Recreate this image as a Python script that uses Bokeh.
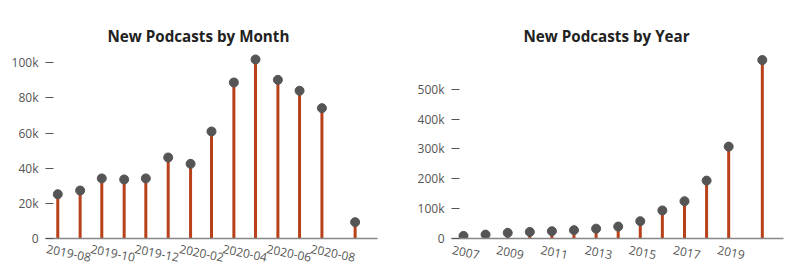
import pandas as pd
from bokeh.plotting import figure
from bokeh.layouts import row
from bokeh.models import ColumnDataSource, Range1d, FixedTicker, NumeralTickFormatter
from bokeh.embed import file_html
from bokeh.resources import INLINE

# ---- data ----
month_dates = ["2019-08-01", "2019-09-01", "2019-10-01", "2019-11-01", "2019-12-01",
               "2020-01-01", "2020-02-01", "2020-03-01", "2020-04-01", "2020-05-01",
               "2020-06-01", "2020-07-01", "2020-08-01", "2020-09-16"]
month_counts = [25200, 27300, 34200, 33600, 34200, 46100, 42500, 60900, 88800, 101900,
                90300, 84100, 74200, 9300]
month_tick_dates = ["2019-08-01", "2019-10-01", "2019-12-01", "2020-02-01",
                    "2020-04-01", "2020-06-01", "2020-08-01"]
month_tick_labels = ["2019-08", "2019-10", "2019-12", "2020-02",
                     "2020-04", "2020-06", "2020-08"]
month_y_ticks = [0, 20000, 40000, 60000, 80000, 100000]

year_dates = ["2007-01-01", "2008-01-01", "2009-01-01", "2010-01-01", "2011-01-01",
              "2012-01-01", "2013-01-01", "2014-01-01", "2015-01-01", "2016-01-01",
              "2017-01-01", "2018-01-01", "2019-01-01", "2020-07-10"]
year_counts = [8700, 13000, 19000, 22000, 24500, 28000, 33000, 40000, 58000, 94000,
               125000, 194000, 308000, 598000]
year_tick_dates = ["2007-01-01", "2009-01-01", "2011-01-01", "2013-01-01",
                   "2015-01-01", "2017-01-01", "2019-01-01"]
year_tick_labels = ["2007", "2009", "2011", "2013", "2015", "2017", "2019"]
year_y_ticks = [0, 100000, 200000, 300000, 400000, 500000]

STEM = "#b8401a"
DOT = "#555555"
FONT = "Open Sans"


def ms(s):
    return pd.Timestamp(s).value / 1e6


def make(title, dates, counts, tick_dates, tick_labels, xr, ymax, yticks,
         left, right, title_off, label_shift_px, standoff):
    src = ColumnDataSource(dict(x=pd.to_datetime(dates), y=counts))
    p = figure(width=400, height=274, x_axis_type="datetime",
               output_backend="svg", toolbar_location=None,
               x_range=Range1d(pd.Timestamp(xr[0]), pd.Timestamp(xr[1])),
               y_range=Range1d(0, ymax),
               min_border_left=left, min_border_right=right,
               min_border_top=50, min_border_bottom=36)
    p.title.text = title
    p.title.align = "left"
    p.title.offset = title_off
    p.title.text_font = FONT
    p.title.text_font_size = "15.2px"
    p.title.text_font_style = "bold"
    p.title.text_color = "#222222"
    p.outline_line_color = None
    p.grid.visible = False

    p.segment(x0="x", y0=0, x1="x", y1="y", source=src, line_color=STEM, line_width=3)
    p.scatter(x="x", y="y", source=src, size=9, fill_color=DOT, line_color=DOT)

    # rotated labels start at their (invisible) tick; move the anchors a little
    # to the left so the labels sit roughly centred under their month / year
    frame_w = 400 - left - right
    ms_per_px = (ms(xr[1]) - ms(xr[0])) / frame_w
    shift = -label_shift_px * ms_per_px
    tick_vals = [round(ms(d) + shift) for d in tick_dates]

    xa = p.xaxis[0]
    xa.ticker = FixedTicker(ticks=tick_vals)
    xa.major_label_overrides = {v: t for v, t in zip(tick_vals, tick_labels)}
    xa.major_label_orientation = -0.2
    xa.major_tick_in = 0
    xa.major_tick_out = 0
    xa.minor_tick_in = 0
    xa.minor_tick_out = 0
    xa.axis_line_color = "#888888"
    xa.axis_line_width = 1.5
    xa.major_label_text_font = FONT
    xa.major_label_text_font_size = "12px"
    xa.major_label_text_color = "#555555"
    xa.major_label_standoff = standoff

    ya = p.yaxis[0]
    ya.ticker = FixedTicker(ticks=yticks)
    ya.formatter = NumeralTickFormatter(format="0a")
    ya.axis_line_color = None
    ya.major_tick_in = 8
    ya.major_tick_out = 0
    ya.minor_tick_in = 0
    ya.minor_tick_out = 0
    ya.major_tick_line_color = "#555555"
    ya.major_label_text_font = FONT
    ya.major_label_text_font_size = "12px"
    ya.major_label_text_color = "#555555"
    ya.major_label_standoff = 7
    return p


p1 = make("New Podcasts by Month", month_dates, month_counts, month_tick_dates,
          month_tick_labels, ("2019-07-15", "2020-10-17"), 107000, month_y_ticks,
          45, 23, 62, 11, 10)
p2 = make("New Podcasts by Year", year_dates, year_counts, year_tick_dates,
          year_tick_labels, ("2006-06-17", "2021-06-25"), 630000, year_y_ticks,
          51, 17, 72, 11, 11)

layout = row(p1, p2)
open("out.html", "w").write(file_html(layout, INLINE))
